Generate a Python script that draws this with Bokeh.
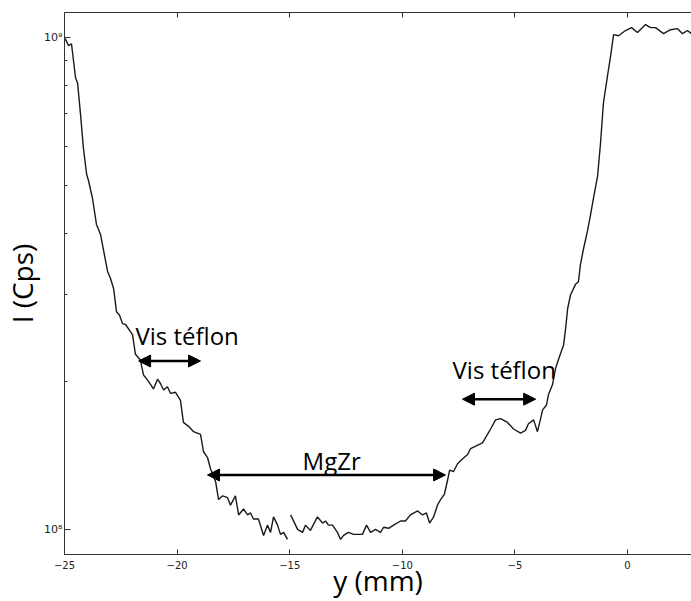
import numpy as np
from bokeh.plotting import figure
from bokeh.models import (LinearAxis, FixedTicker, Range1d, Arrow, NormalHead, Label,
                          CustomJSTickFormatter)
from bokeh.embed import file_html
from bokeh.resources import INLINE

# ---------------- data ----------------
# first segment of the scan: y position (mm) and intensity (counts per second)
seg1_y_mm = [-25.00, -24.96, -24.82, -24.69, -24.51, -24.42, -24.29, -24.16, -24.02, -23.93,
             -23.76, -23.58, -23.40, -23.09, -22.96, -22.82, -22.69, -22.56, -22.42, -22.29,
             -21.98, -21.85, -21.63, -21.49, -21.27, -21.05, -20.87, -20.74, -20.60, -20.43,
             -20.29, -20.07, -19.85, -19.72, -19.49, -19.27, -18.96, -18.83, -18.65, -18.52,
             -18.29, -18.16, -17.98, -17.76, -17.63, -17.41, -17.27, -17.05, -16.87, -16.74,
             -16.61, -16.39, -16.16, -15.99, -15.85, -15.72, -15.54, -15.41, -15.27, -15.10]
seg1_I = [9.86e8, 9.95e8, 9.63e8, 9.72e8, 8.29e8, 8.09e8, 7.00e8, 5.96e8, 5.28e8, 5.11e8,
          4.72e8, 4.17e8, 3.98e8, 3.35e8, 3.24e8, 3.09e8, 2.77e8, 2.73e8, 2.62e8, 2.61e8,
          2.49e8, 2.27e8, 2.21e8, 2.06e8, 2.00e8, 1.93e8, 2.02e8, 1.98e8, 1.92e8, 1.95e8,
          1.89e8, 1.90e8, 1.83e8, 1.65e8, 1.62e8, 1.58e8, 1.56e8, 1.44e8, 1.40e8, 1.33e8,
          1.25e8, 1.15e8, 1.17e8, 1.16e8, 1.12e8, 1.17e8, 1.07e8, 1.10e8, 1.07e8, 1.08e8,
          1.05e8, 1.05e8, 0.972e8, 1.02e8, 0.986e8, 1.06e8, 1.02e8, 0.977e8, 0.986e8, 0.954e8]

# second segment of the scan
seg2_y_mm = [-14.96, -14.74, -14.65, -14.43, -14.30, -14.08, -13.77, -13.54, -13.41, -13.28,
             -13.10, -12.88, -12.74, -12.61, -12.39, -12.17, -11.77, -11.59, -11.41, -11.19,
             -10.97, -10.83, -10.61, -10.39, -10.08, -9.86, -9.64, -9.32, -9.10, -8.93,
             -8.79, -8.61, -8.44, -8.30, -8.13, -7.99, -7.90, -7.73, -7.55, -7.33,
             -7.10, -6.97, -6.44, -6.22, -6.08, -5.86, -5.64, -5.33, -5.06, -4.75,
             -4.53, -4.40, -4.17, -4.00, -3.86, -3.77, -3.60, -3.51, -3.33, -3.20,
             -3.06, -2.84, -2.75, -2.66, -2.53, -2.31, -2.18, -2.09, -1.95, -1.78,
             -1.64, -1.51, -1.33, -1.20, -1.07, -0.89, -0.75, -0.62, -0.40, -0.09,
             0.18, 0.44, 0.80, 1.02, 1.24, 1.60, 1.91, 2.22, 2.44, 2.66,
             2.84, 3.00]
seg2_I = [1.07e8, 1.02e8, 1.00e8, 0.986e8, 1.02e8, 0.995e8, 1.06e8, 1.03e8, 1.04e8, 1.02e8,
          1.02e8, 0.986e8, 0.954e8, 0.972e8, 0.986e8, 0.977e8, 0.977e8, 1.02e8, 0.986e8, 1.00e8,
          0.986e8, 1.01e8, 1.005e8, 1.02e8, 1.04e8, 1.04e8, 1.07e8, 1.09e8, 1.07e8, 1.08e8,
          1.03e8, 1.06e8, 1.12e8, 1.15e8, 1.18e8, 1.26e8, 1.32e8, 1.31e8, 1.36e8, 1.39e8,
          1.42e8, 1.46e8, 1.50e8, 1.56e8, 1.60e8, 1.67e8, 1.68e8, 1.65e8, 1.60e8, 1.57e8,
          1.59e8, 1.64e8, 1.67e8, 1.58e8, 1.68e8, 1.75e8, 1.79e8, 1.88e8, 1.97e8, 2.12e8,
          2.22e8, 2.37e8, 2.56e8, 2.81e8, 3.00e8, 3.15e8, 3.19e8, 3.46e8, 3.73e8, 4.04e8,
          4.37e8, 4.72e8, 5.23e8, 6.10e8, 7.37e8, 8.36e8, 9.19e8, 10.14e8, 10.09e8, 10.34e8,
          10.48e8, 10.24e8, 10.63e8, 10.48e8, 10.48e8, 10.19e8, 10.38e8, 10.43e8, 10.19e8, 10.34e8,
          10.19e8, 10.25e8]

# ticks
x_ticks = [-25, -20, -15, -10, -5, 0]
y_major_ticks = [1e8, 1e9]
y_minor_ticks = [2e8, 3e8, 4e8, 5e8, 6e8, 7e8, 8e8, 9e8]
y_tick_labels = ["10⁸", "10⁹"]

# annotations: double arrows (x start, x end, level) and texts
arrow_x_start = [-21.71, -7.33, -18.65]
arrow_x_end = [-18.96, -4.08, -8.08]
arrow_I = [2.20e8, 1.84e8, 1.29e8]
note_texts = ["Vis téflon", "Vis téflon", "MgZr"]
note_x = [-21.85, -7.77, -14.43]
note_I = [2.48e8, 2.11e8, 1.383e8]

# ---------------- figure ----------------
p = figure(width=691, height=601, y_axis_type="log",
           x_range=Range1d(-25, 2.84), y_range=Range1d(8.89e7, 1.125e9),
           output_backend="svg", toolbar_location=None, min_border=0,
           min_border_top=12, min_border_right=0, min_border_left=64)
p.outline_line_color = None
p.grid.grid_line_color = None
p.background_fill_color = "white"
p.border_fill_color = "white"

line_col = "#1a1a1a"
p.line(seg1_y_mm, seg1_I, line_color=line_col, line_width=1.4)
p.line(seg2_y_mm, seg2_I, line_color=line_col, line_width=1.4)

# x axis (bottom)
xa = p.xaxis[0]
xa.ticker = FixedTicker(ticks=x_ticks)
xa.major_tick_in = 5
xa.major_tick_out = 0
xa.minor_tick_line_color = None
xa.axis_line_color = "#333333"
xa.major_tick_line_color = "#333333"
xa.major_label_text_font = "DejaVu Sans"
xa.major_label_text_font_size = "10px"
xa.major_label_text_color = "#222222"
xa.major_label_standoff = 6
xa.axis_label = "y (mm)"
xa.axis_label_text_font = "Open Sans"
xa.axis_label_text_font_size = "28px"
xa.axis_label_text_font_style = "normal"
xa.axis_label_text_color = "black"
xa.axis_label_standoff = -11

# y axis (left, log)
ya = p.yaxis[0]
ya.ticker = FixedTicker(ticks=y_major_ticks, minor_ticks=y_minor_ticks)
ya.major_label_overrides = {t: lab for t, lab in zip(y_major_ticks, y_tick_labels)}
ya.major_tick_in = 6
ya.major_tick_out = 0
ya.minor_tick_in = 3
ya.minor_tick_out = 0
ya.axis_line_color = "#333333"
ya.major_tick_line_color = "#333333"
ya.minor_tick_line_color = "#333333"
ya.major_label_text_font = "DejaVu Sans"
ya.major_label_text_font_size = "11px"
ya.major_label_text_color = "#222222"
ya.major_label_standoff = 2
ya.axis_label = "I (Cps)"
ya.axis_label_text_font = "Open Sans"
ya.axis_label_text_font_size = "28px"
ya.axis_label_text_font_style = "normal"
ya.axis_label_text_color = "black"
ya.axis_label_standoff = 0

# top axis with inward ticks only (no labels)
top = LinearAxis(ticker=FixedTicker(ticks=x_ticks),
                 formatter=CustomJSTickFormatter(code="return ''"),
                 major_label_text_font_size="1px",
                 major_label_standoff=0, major_tick_in=5, major_tick_out=0,
                 minor_tick_line_color=None, axis_line_color="#333333",
                 major_tick_line_color="#333333")
p.add_layout(top, "above")

# arrows
for xs, xe, lv in zip(arrow_x_start, arrow_x_end, arrow_I):
    p.add_layout(Arrow(start=NormalHead(size=12, fill_color="black", line_color="black"),
                       end=NormalHead(size=12, fill_color="black", line_color="black"),
                       x_start=xs, y_start=lv, x_end=xe, y_end=lv,
                       line_color="black", line_width=2.5))

# texts
for t, tx, ty in zip(note_texts, note_x, note_I):
    p.add_layout(Label(x=tx, y=ty, text=t, text_font="Open Sans", text_font_size="24px",
                       text_color="black", text_baseline="alphabetic", text_align="left"))

open("out.html", "w").write(file_html(p, INLINE))
